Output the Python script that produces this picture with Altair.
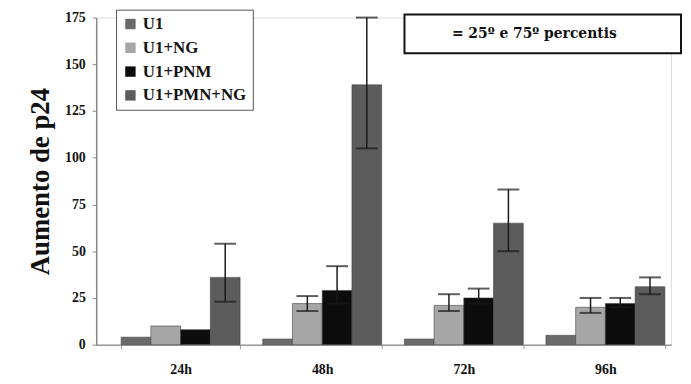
import altair as alt
import pandas as pd

times = ["24h", "48h", "72h", "96h"]
series = ["U1", "U1+NG", "U1+PNM", "U1+PMN+NG"]

u1 = [4, 3, 3, 5]
u1_ng = [10, 22, 21, 20]
u1_pnm = [8, 29, 25, 22]
u1_pmn_ng = [36, 139, 65, 31]

u1_lo = [None, None, None, None]
u1_hi = [None, None, None, None]
ng_lo = [None, 18, 18, 17]
ng_hi = [None, 26, 27, 25]
pnm_lo = [None, 22, 22, 20]
pnm_hi = [None, 42, 30, 25]
pmn_lo = [23, 105, 50, 27]
pmn_hi = [54, 175, 83, 36]

colors = ["#6a6a6a", "#a6a6a6", "#0c0c0c", "#5c5c5c"]

vals = [u1, u1_ng, u1_pnm, u1_pmn_ng]
los = [u1_lo, ng_lo, pnm_lo, pmn_lo]
his = [u1_hi, ng_hi, pnm_hi, pmn_hi]

rows = []
for s, v, lo, hi in zip(series, vals, los, his):
    for i, t in enumerate(times):
        rows.append({"time": t, "series": s, "value": v[i], "lo": lo[i], "hi": hi[i]})
df = pd.DataFrame(rows)
err = df.dropna(subset=["lo", "hi"])

FONT = "Liberation Serif"

x = alt.X("time:N", sort=times,
          scale=alt.Scale(paddingInner=0.16, paddingOuter=0.11, align=0.8),
          axis=alt.Axis(title=None, labelAngle=0, labelFont=FONT, labelFontWeight="bold",
                        labelFontSize=14, labelColor="#111", labelPadding=14,
                        tickBand="extent", tickSize=4, tickColor="#999",
                        domainColor="#999", domainWidth=1.5))
xo = alt.XOffset("series:N", sort=series, scale=alt.Scale(domain=series, paddingInner=0))

y_axis = alt.Axis(values=[0, 25, 50, 75, 100, 125, 150, 175], grid=False,
                  title="Aumento de p24", titleFont=FONT, titleFontWeight="bold",
                  titleFontSize=27, titleColor="#111", titlePadding=10,
                  labelFont=FONT, labelFontWeight="bold", labelFontSize=14,
                  labelColor="#111", labelPadding=7, tickSize=4, tickColor="#888",
                  domainColor="#888", domainWidth=1.5)

bars = alt.Chart(df).mark_bar(stroke="#444", strokeWidth=0.6).encode(
    x=x, xOffset=xo,
    y=alt.Y("value:Q", scale=alt.Scale(domain=[0, 175], nice=False), axis=y_axis),
    color=alt.Color("series:N", sort=series,
                    scale=alt.Scale(domain=series, range=colors),
                    legend=alt.Legend(title=None, orient="none", legendX=20, legendY=-8,
                                      direction="vertical", symbolType="square",
                                      symbolSize=110, symbolStrokeWidth=0,
                                      labelFont=FONT, labelFontWeight="bold",
                                      labelFontSize=17, labelColor="#111",
                                      rowPadding=6, padding=6, strokeColor="#555",
                                      fillColor="white", labelLimit=200)),
)

rule = alt.Chart(err).mark_rule(color="#1a1a1a", strokeWidth=1.5).encode(
    x=x, xOffset=xo, y=alt.Y("lo:Q"), y2="hi:Q")
tick_hi = alt.Chart(err).mark_tick(color="#1a1a1a", thickness=2, size=22).encode(
    x=x, xOffset=xo, y=alt.Y("hi:Q"))
tick_lo = alt.Chart(err).mark_tick(color="#1a1a1a", thickness=2, size=22).encode(
    x=x, xOffset=xo, y=alt.Y("lo:Q"))

box = alt.Chart(pd.DataFrame({"a": [0]})).mark_rect(
    fill="white", stroke="#111", strokeWidth=2).encode(
    x=alt.value(311), x2=alt.value(590), y=alt.value(-3), y2=alt.value(36))
box_text = alt.Chart(pd.DataFrame({"t": ["= 25º e 75º percentis"]})).mark_text(
    font="DejaVu Serif", fontWeight="bold", fontSize=14, color="#111").encode(
    text="t:N", x=alt.value(442), y=alt.value(17))

chart = alt.layer(bars, rule, tick_hi, tick_lo, box, box_text).properties(
    width=580, height=330,
    autosize=alt.AutoSizeParams(type="none"),
    padding={"left": 89, "top": 8, "right": 12, "bottom": 36},
).configure_view(stroke=None).configure(background="white")

chart.save("out.html", embed_options={"renderer": "svg", "actions": False})
